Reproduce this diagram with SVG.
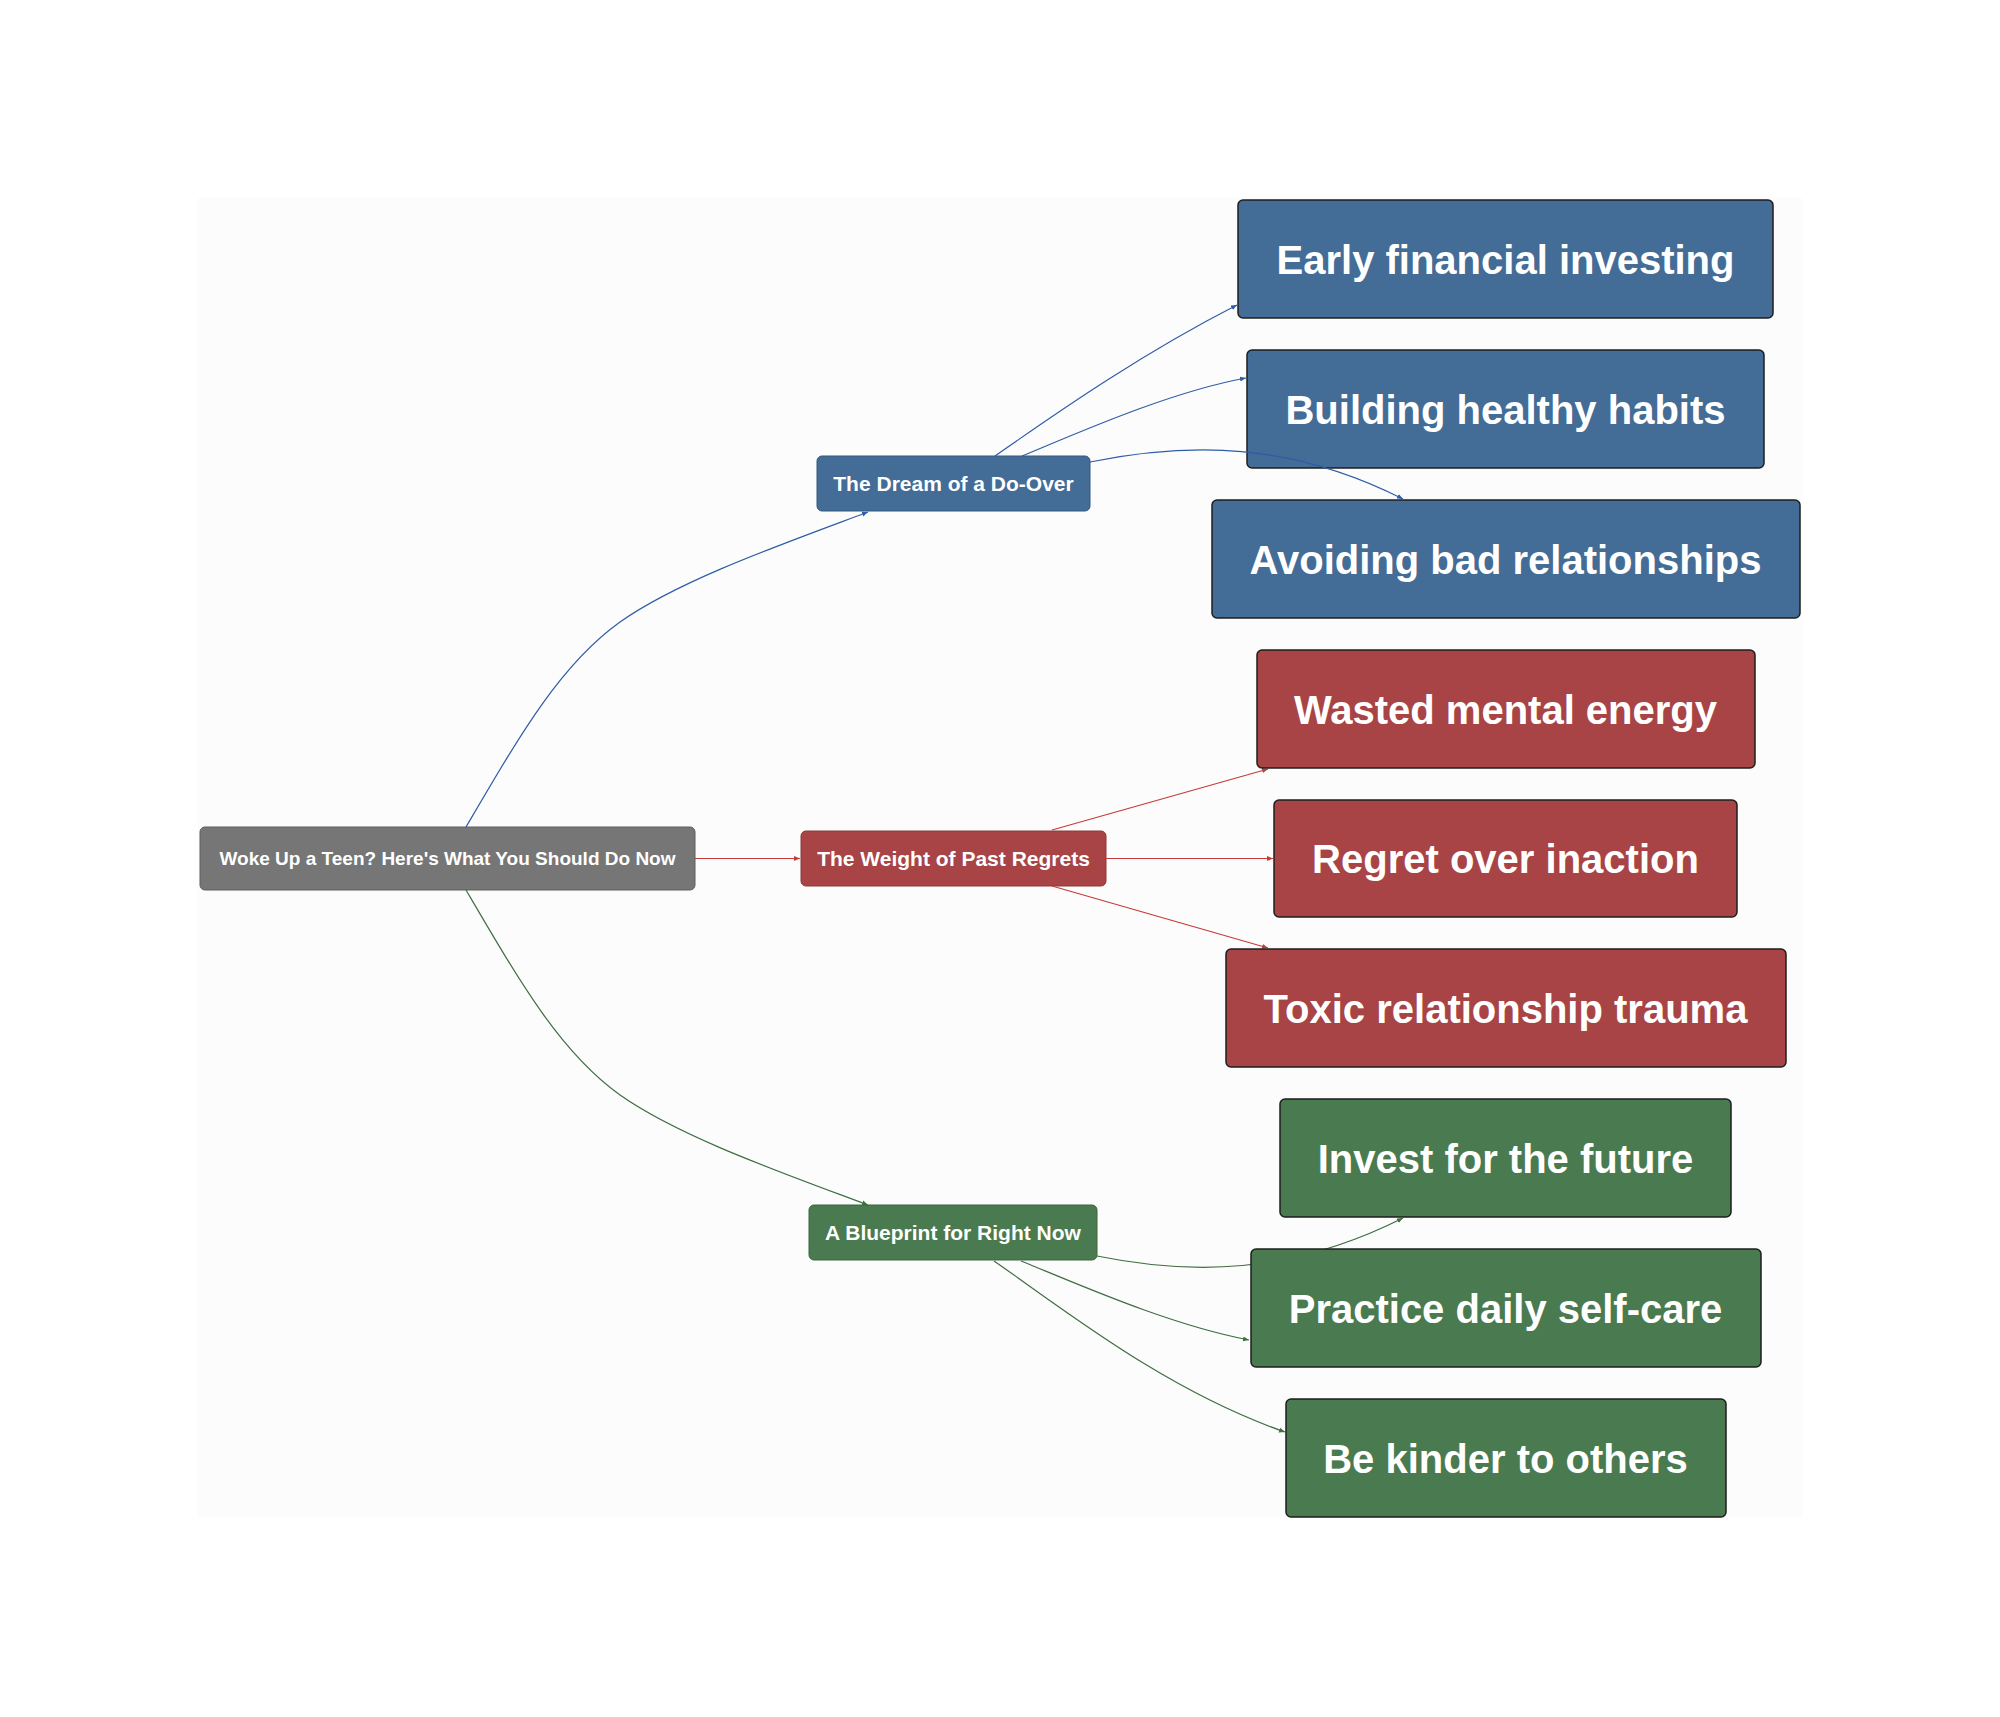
<svg xmlns="http://www.w3.org/2000/svg" width="2000" height="1717" viewBox="0 0 2000 1717">
<style>
text{font-family:"Liberation Sans",Arial,sans-serif;font-weight:bold;fill:#ffffff;text-anchor:middle}
.root{font-size:19px}
.mid{font-size:21px}
.leaf{font-size:40px}
.e{fill:none;stroke-width:1.2}
.eb{stroke:#2f5ca6}
.er{stroke:#c83a3a}
.eg{stroke:#3f6e43}
.nb{fill:#436c96}
.nr{fill:#a84445}
.ng{fill:#4a7a4f}
.lf{stroke:#1e1e1e;stroke-width:1.5}
.md{stroke-width:1}
</style>
<defs>
<marker id="ab" markerUnits="userSpaceOnUse" markerWidth="7" markerHeight="6" refX="6" refY="3" orient="auto"><path d="M0,0.5 L6,3 L0,5.5 z" fill="#2f5ca6"/></marker>
<marker id="ar" markerUnits="userSpaceOnUse" markerWidth="7" markerHeight="6" refX="6" refY="3" orient="auto"><path d="M0,0.5 L6,3 L0,5.5 z" fill="#c83a3a"/></marker>
<marker id="ag" markerUnits="userSpaceOnUse" markerWidth="7" markerHeight="6" refX="6" refY="3" orient="auto"><path d="M0,0.5 L6,3 L0,5.5 z" fill="#3f6e43"/></marker>
</defs>
<rect x="0" y="0" width="2000" height="1717" fill="#ffffff"/>
<rect x="198" y="198" width="1604" height="1320" fill="#fcfcfc"/>
<g id="root">
<rect x="200" y="827" width="495" height="63" rx="5" fill="#767676" stroke="#5e5e5e" stroke-width="1"/>
<text class="root" x="447.5" y="865">Woke Up a Teen? Here's What You Should Do Now</text>
</g>
<g id="dream">
<rect class="nb md" x="817" y="456" width="273" height="55" rx="5" stroke="#36597c"/>
<text class="mid" x="953.5" y="491">The Dream of a Do-Over</text>
</g>
<g id="weight">
<rect class="nr md" x="801" y="831" width="305" height="55" rx="5" stroke="#8a3a3b"/>
<text class="mid" x="953.5" y="866">The Weight of Past Regrets</text>
</g>
<g id="blueprint">
<rect class="ng md" x="809" y="1205" width="288" height="55" rx="5" stroke="#3d6541"/>
<text class="mid" x="953" y="1240">A Blueprint for Right Now</text>
</g>
<g id="early">
<rect class="nb lf" x="1238" y="200" width="535" height="118" rx="5"/>
<text class="leaf" x="1505.5" y="273.5">Early financial investing</text>
</g>
<g id="building">
<rect class="nb lf" x="1247" y="350" width="517" height="118" rx="5"/>
<text class="leaf" x="1505.5" y="423.5">Building healthy habits</text>
</g>
<g id="avoiding">
<rect class="nb lf" x="1212" y="500" width="588" height="118" rx="5"/>
<text class="leaf" x="1505.5" y="573.5">Avoiding bad relationships</text>
</g>
<g id="connectors">
<path class="e eb" marker-end="url(#ab)" d="M466,827 C520,735 560,665 620,622 C680,580 780,545 868,512"/>
<path class="e eg" marker-end="url(#ag)" d="M466,890 C520,982 560,1052 620,1095 C680,1137 780,1172 868,1205"/>
<path class="e er" marker-end="url(#ar)" d="M695,858.5 L800,858.5"/>
<path class="e eb" marker-end="url(#ab)" d="M995,456 C1065,407 1145,352 1237,305"/>
<path class="e eb" marker-end="url(#ab)" d="M1022,456 C1080,432 1170,392 1246,378"/>
<path class="e eb" marker-end="url(#ab)" d="M1090,462 C1190,442 1290,442 1403,499"/>
<path class="e er" marker-end="url(#ar)" d="M1052,830 L1268,769"/>
<path class="e er" marker-end="url(#ar)" d="M1106,858.5 L1273,858.5"/>
<path class="e er" marker-end="url(#ar)" d="M1052,886 L1268,948"/>
<path class="e eg" marker-end="url(#ag)" d="M1097,1256 C1190,1275 1290,1275 1403,1218"/>
<path class="e eg" marker-end="url(#ag)" d="M1021,1261 C1080,1285 1170,1325 1249,1340"/>
<path class="e eg" marker-end="url(#ag)" d="M994,1261 C1065,1310 1165,1390 1285,1432"/>
</g>
<g id="wasted">
<rect class="nr lf" x="1257" y="650" width="498" height="118" rx="5"/>
<text class="leaf" x="1505.5" y="723.5">Wasted mental energy</text>
</g>
<g id="regret">
<rect class="nr lf" x="1274" y="800" width="463" height="117" rx="5"/>
<text class="leaf" x="1505.5" y="873">Regret over inaction</text>
</g>
<g id="toxic">
<rect class="nr lf" x="1226" y="949" width="560" height="118" rx="5"/>
<text class="leaf" x="1505.5" y="1022.5">Toxic relationship trauma</text>
</g>
<g id="invest">
<rect class="ng lf" x="1280" y="1099" width="451" height="118" rx="5"/>
<text class="leaf" x="1505.5" y="1172.5">Invest for the future</text>
</g>
<g id="practice">
<rect class="ng lf" x="1251" y="1249" width="510" height="118" rx="5"/>
<text class="leaf" x="1505.5" y="1322.5">Practice daily self-care</text>
</g>
<g id="kinder">
<rect class="ng lf" x="1286" y="1399" width="440" height="118" rx="5"/>
<text class="leaf" x="1505.5" y="1472.5">Be kinder to others</text>
</g>
</svg>
